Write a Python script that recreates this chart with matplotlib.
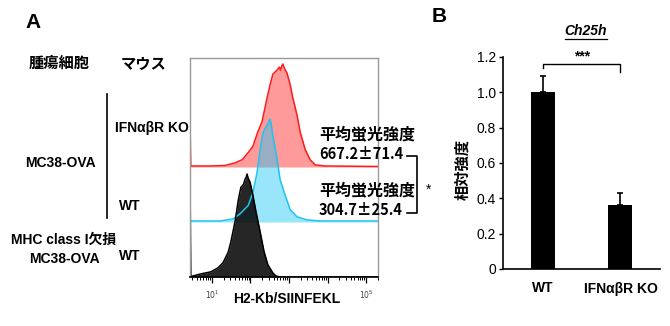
import numpy as np
import matplotlib
matplotlib.use("Agg")
import matplotlib.pyplot as plt
from matplotlib.lines import Line2D
from matplotlib.ticker import NullFormatter

# --- flow cytometry histograms (log10 intensity, % of mode) ---
red_log = [0.43, 0.45, 1.0, 1.34, 1.60, 1.78, 1.94, 2.06, 2.19, 2.30,
           2.43, 2.51, 2.58, 2.66, 2.71, 2.75, 2.78, 2.81, 2.84, 2.88,
           2.95, 3.03, 3.10, 3.21, 3.29, 3.42, 3.55, 3.68, 3.94, 5.31]
red_pct = [43, 1, 1, 1.5, 4, 7, 14, 20, 34, 44,
           67, 80, 90, 93, 95, 97, 94, 98, 100, 96,
           91, 80, 67, 50, 34, 17, 7, 2, 1, 0.5]

cyan_log = [0.43, 1.21, 1.55, 1.73, 1.94, 2.06, 2.17, 2.25, 2.32, 2.40,
            2.46, 2.50, 2.53, 2.58, 2.69, 2.77, 2.90, 3.03, 3.21, 3.47,
            3.81, 5.31]
cyan_pct = [1, 1, 3, 8, 16, 28, 48, 70, 86, 92,
            96, 100, 97, 84, 61, 41, 26, 12, 5, 2,
            1, 1]

black_log = [0.43, 0.45, 0.71, 0.97, 1.16, 1.29, 1.42, 1.49, 1.60, 1.68,
             1.75, 1.82, 1.86, 1.89, 1.91, 1.94, 1.99, 2.06, 2.14, 2.25,
             2.35, 2.45, 2.58, 2.66, 2.77, 5.31]
black_pct = [102, 0.5, 3, 5, 9, 14, 24, 34, 54, 74,
             87, 90, 95, 97, 100, 96, 92, 80, 64, 44,
             25, 12, 4, 1, 0, 0]

mfi_labels = ["667.2±71.4", "304.7±25.4"]

# --- qPCR relative expression ---
groups = ["WT", "IFNαβR KO"]
rel_expr = [1.0, 0.36]
rel_err = [0.09, 0.07]

W, H = 670, 326
LAT = ["Liberation Sans Narrow", "Liberation Sans", "Noto Sans CJK JP"]
JP = ["Noto Sans CJK JP", "DejaVu Sans"]

fig = plt.figure(figsize=(W / 100, H / 100), dpi=100)


def ftext(x, y, s, **kw):
    kw.setdefault("ha", "center")
    kw.setdefault("va", "center")
    return fig.text(x / W, 1 - y / H, s, **kw)


def fline(xs, ys, **kw):
    fig.add_artist(Line2D([x / W for x in xs], [1 - y / H for y in ys], **kw))


# ---------- panel A ----------
ax = fig.add_axes([190 / W, 1 - 277 / H, 188 / W, 219 / H])
lanes = [
    (red_log, red_pct, 110, "#ff1a1a", "#ff2020", 0.45),
    (cyan_log, cyan_pct, 55, "#1ec3ee", "#1ec8f5", 0.45),
    (black_log, black_pct, 0, "black", "black", 0.85),
]
for logs, pct, base, edge, fill, alpha in lanes:
    xs = 10 ** np.array(logs)
    ys = base + np.array(pct) * 1.03
    ax.fill_between(xs, base, ys, color=fill, alpha=alpha, lw=0)
    ax.plot(xs, ys, color=edge, lw=1.1)

ax.set_xscale("log")
ax.set_xlim(10 ** 0.43, 10 ** 5.31)
ax.set_ylim(0, 219)
ax.set_yticks([])
ax.set_xticks([1e1, 1e2, 1e3, 1e4, 1e5], [r"$10^1$", "", "", "", r"$10^5$"])
ax.xaxis.set_minor_formatter(NullFormatter())
ax.tick_params(axis="x", which="major", direction="out", length=4, width=0.9,
               labelsize=5.5, labelcolor="#444444", pad=4)
ax.tick_params(axis="x", which="minor", direction="out", length=2, width=0.7)
for s in ["top", "right", "left"]:
    ax.spines[s].set_color("#999999")
    ax.spines[s].set_linewidth(1.0)
ax.spines["bottom"].set_linewidth(1.2)

ftext(287, 299, "H2-Kb/SIINFEKL", family=LAT, weight="bold", fontsize=10)

ftext(33, 22, "A", family=LAT[1:], weight="bold", fontsize=15)
ftext(59, 63, "腫瘍細胞", family=JP, weight="bold", fontsize=11)
ftext(143, 63, "マウス", family=JP, weight="bold", fontsize=11)
fline([107, 107], [94, 218], color="black", lw=1.2)
ftext(115, 128, "IFNαβR KO", family=LAT, weight="bold", fontsize=10, ha="left")
ftext(60, 163, "MC38-OVA", family=LAT, weight="bold", fontsize=10)
ftext(130, 206, "WT", family=LAT, weight="bold", fontsize=10)
ftext(64, 240, "MHC class I欠損", family=LAT, weight="bold", fontsize=10)
ftext(64, 259, "MC38-OVA", family=LAT, weight="bold", fontsize=10)
ftext(130, 256, "WT", family=LAT, weight="bold", fontsize=10)

ftext(319, 134, "平均蛍光強度", family=JP, weight="bold", fontsize=11.5, ha="left")
ftext(319, 154, mfi_labels[0], family=JP, weight="bold", fontsize=10.5, ha="left")
ftext(319, 190, "平均蛍光強度", family=JP, weight="bold", fontsize=11.5, ha="left")
ftext(319, 210, mfi_labels[1], family=JP, weight="bold", fontsize=10.5, ha="left")
fline([407, 417, 417, 407], [156, 156, 213, 213], color="black", lw=1.2)
ftext(429, 190, "*", family=LAT[1:], fontsize=10)

# ---------- panel B ----------
bx = fig.add_axes([503 / W, 1 - 269 / H, 157 / W, 212 / H])
pos = np.arange(len(groups))
bx.bar(pos, rel_expr, width=0.31, color="black")
bx.errorbar(pos, rel_expr, yerr=[np.zeros(len(rel_err)), rel_err], fmt="none",
            ecolor="black", elinewidth=1.2, capsize=2.5, capthick=1.2)
bx.set_xlim(-0.516, 1.51)
bx.set_ylim(0, 1.2)
yt = [0, 0.2, 0.4, 0.6, 0.8, 1.0, 1.2]
bx.set_yticks(yt, ["0"] + [f"{v:.1f}" for v in yt[1:]])
bx.set_xticks(pos, groups)
for lab in bx.get_xticklabels():
    lab.set_family(LAT)
    lab.set_weight("bold")
    lab.set_fontsize(10)
for lab in bx.get_yticklabels():
    lab.set_family("Liberation Sans")
    lab.set_fontsize(10)
bx.tick_params(axis="x", length=0, pad=9)
bx.tick_params(axis="y", direction="out", length=3, width=1.0, pad=2)
bx.spines[["top", "right"]].set_visible(False)
bx.spines[["left", "bottom"]].set_linewidth(1.2)

bx.plot([0, 0, 1, 1], [1.14, 1.16, 1.16, 1.115], color="black", lw=1.0, clip_on=False)
bx.text(0.5, 1.205, "***", ha="center", va="center", family="Liberation Sans",
        weight="bold", fontsize=10, clip_on=False)

ftext(439, 16, "B", family=LAT[1:], weight="bold", fontsize=15)
ftext(462, 169, "相対強度", family=JP, weight="bold", fontsize=11, rotation=90)
title = ftext(586, 31, "Ch25h", family="Liberation Sans", style="italic",
              weight="bold", fontsize=10)

# underline the gene name
fig.canvas.draw()
bb = title.get_window_extent(fig.canvas.get_renderer())
fig.add_artist(Line2D([bb.x0 / W, bb.x1 / W], [(bb.y0 - 1) / H] * 2,
                      color="black", lw=0.9))

fig.savefig("out.png", dpi=100)
